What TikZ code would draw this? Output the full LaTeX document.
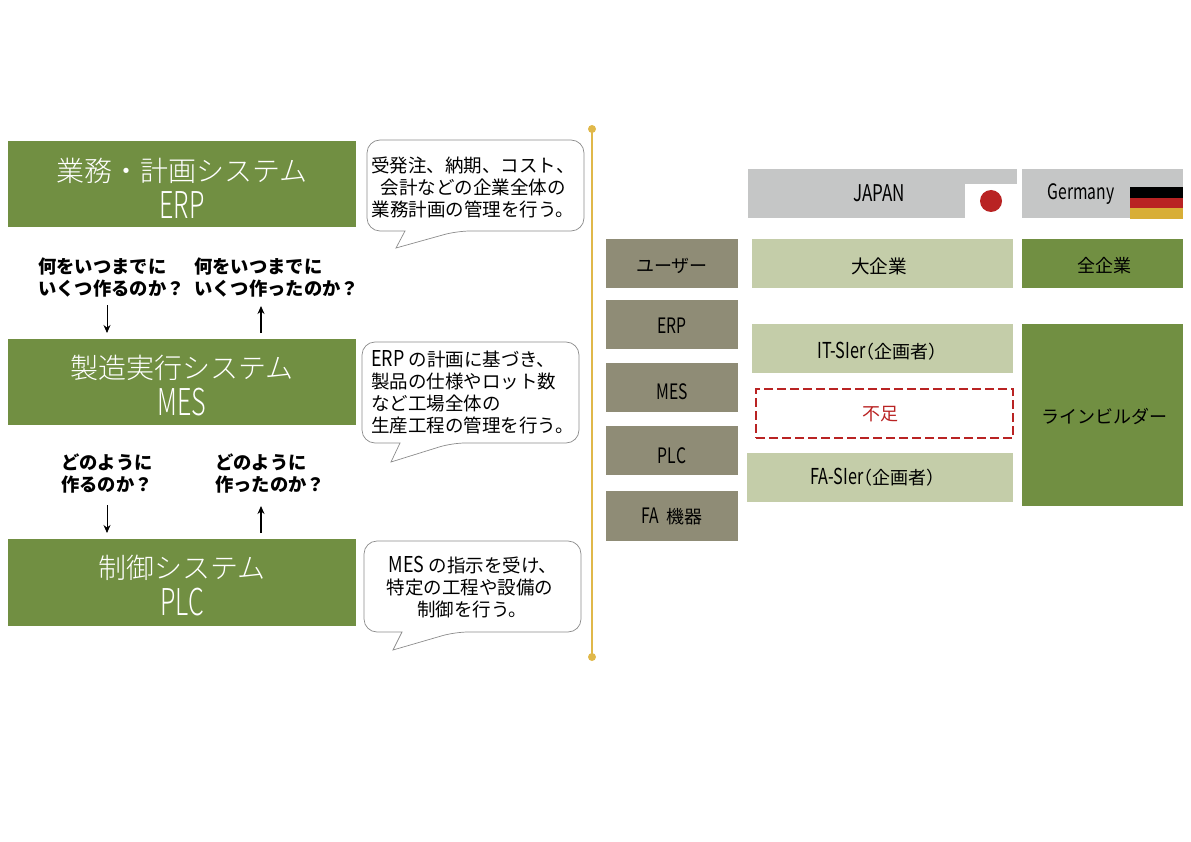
\documentclass[tikz,border=0pt]{standalone}
\usepackage{fontspec}
\setmainfont{Noto Sans CJK JP}
\newfontfamily\lightjp{Noto Sans CJK JP Light}
\newfontfamily\nar[FakeStretch=0.74,Scale=1.18]{Noto Sans CJK JP}
\newfontfamily\nab[FakeStretch=0.82,Scale=1.18]{Noto Sans CJK JP}
\newfontfamily\nart[FakeStretch=0.68,Scale=1.32]{Noto Sans CJK JP Light}
\newfontfamily\halfp[RawFeature=+halt]{Noto Sans CJK JP}
\newcommand{\la}[1]{{\nar #1}}
\newcommand{\lb}[1]{{\nab #1}}
\newcommand{\lat}[1]{{\nart #1}}
\newcommand{\sm}[1]{{\halfp\fontsize{18}{22}\selectfont #1}}
\definecolor{dkgreen}{HTML}{718F42}
\definecolor{ltgreen}{HTML}{C4CDA9}
\definecolor{taupe}{HTML}{8F8C76}
\definecolor{hdgrey}{HTML}{C5C6C6}
\definecolor{gold}{HTML}{E0B84A}
\definecolor{flagred}{HTML}{B92323}
\definecolor{flaggold}{HTML}{D8AE36}
\definecolor{calloutline}{HTML}{8C8C8C}
\tikzset{
  x=1pt,y=-1pt,
  flat/.style={inner sep=0pt,outer sep=0pt,align=center},
  titlebox/.style={flat,fill=dkgreen,text=white,font=\lightjp\fontsize{28}{34}\selectfont},
  rowbox/.style={flat,fill=taupe,font=\fontsize{18}{22}\selectfont},
  lightbox/.style={flat,fill=ltgreen,font=\fontsize{18.6}{22}\selectfont},
  darkbox/.style={flat,fill=dkgreen,font=\fontsize{18}{22}\selectfont},
  headbox/.style={flat,fill=hdgrey,font=\fontsize{18}{22}\selectfont},
  gapbox/.style={flat,draw=flagred,line width=1.8pt,dash pattern=on 9pt off 4pt,text=flagred,font=\fontsize{18}{22}\selectfont},
  calloutpath/.style={draw=calloutline,fill=white,line width=0.7pt,rounded corners=13pt},
  callouttext/.style={inner sep=0pt,font=\fontsize{18.5}{22}\selectfont},
  asktext/.style={inner sep=0pt,align=left,anchor=west,font=\fontsize{18.3}{22}\bfseries\selectfont},
  flow/.style={-{Stealth[length=8pt,width=7pt]},line width=0.8pt},
  flowup/.style={-{Stealth[length=8pt,width=7pt]},line width=1.5pt},
}
% box from corners, with its text in a separate node at (tx,ty)
\newcommand{\bx}[9]{\node[#2,minimum width={(#5-#3)*1pt},minimum height={(#6-#4)*1pt}] (#1) at ({(#3+#5)/2},{(#4+#6)/2}) {};
  \node[#2,fill=none,draw=none] (#1-t) at (#7,#8) {#9};}
\usetikzlibrary{arrows.meta}
\begin{document}
\begin{tikzpicture}
\useasboundingbox (0,0) rectangle (1191,842);
% title boxes
\bx{erp}{titlebox}{8}{141}{356}{227}{182}{188}{業務・計画システム\\[3pt]\lat{ERP}}
\bx{mes}{titlebox}{8}{339}{356}{425}{182}{386}{製造実行システム\\[3pt]\lat{MES}}
\bx{plc}{titlebox}{8}{539}{356}{626}{182}{586}{制御システム\\[3pt]\lat{PLC}}
% callouts
\path[calloutpath] (367,140) -- (584,140) -- (584,231) -- (457,231) {[sharp corners] -- (396,248) -- (405,231)} -- (367,231) -- cycle;
\node[callouttext,align=center] (c1) at (473,187) {受発注、納期、コスト、\\会計などの企業全体の\hspace*{10pt}\\業務計画の管理を行う。};
\path[calloutpath] (362,342) -- (579,342) -- (579,443) -- (452,443) {[sharp corners] -- (391,462) -- (400,443)} -- (362,443) -- cycle;
\node[callouttext,align=left,anchor=west] (c2) at (371,392.5) {\lb{ERP} の計画に基づき、\\製品の仕様やロット数\\など工場全体の\\生産工程の管理を行う。};
\path[calloutpath] (364,541) -- (581,541) -- (581,632) -- (455,632) {[sharp corners] -- (393,650) -- (402,632)} -- (364,632) -- cycle;
\node[callouttext,align=center] (c3) at (470,587) {\hspace*{6pt}\lb{MES} の指示を受け、\\特定の工程や設備の\\\hspace*{4pt}制御を行う。};
% questions
\node[asktext] (q1) at (38,278) {何をいつまでに\\いくつ作るのか？};
\node[asktext] (q2) at (194,278) {何をいつまでに\\いくつ作ったのか？};
\node[asktext] (q3) at (61,474) {どのように\\作るのか？};
\node[asktext] (q4) at (215,474) {どのように\\作ったのか？};
% arrows
\coordinate (a1s) at (107,305); \coordinate (a1e) at (107,333);
\coordinate (a2s) at (261,333); \coordinate (a2e) at (261,306);
\coordinate (a3s) at (107,505); \coordinate (a3e) at (107,533);
\coordinate (a4s) at (261,533); \coordinate (a4e) at (261,506);
\draw[flow] (a1s) -- (a1e);
\draw[flowup] (a2s) -- (a2e);
\draw[flow] (a3s) -- (a3e);
\draw[flowup] (a4s) -- (a4e);
% divider
\coordinate (d1) at (592,129); \coordinate (d2) at (592,657);
\draw[gold,line width=2pt] (d1) -- (d2);
\fill[gold] (d1) circle (4); \fill[gold] (d2) circle (4);
% headers
\bx{jp}{headbox}{748}{169}{1017}{218}{879}{193}{{\fontsize{19.5}{22}\selectfont\la{JAPAN}}}
\fill[white] (965,184) rectangle (1017,218);
\fill[flagred] (991,201) circle (11);
\bx{de}{headbox}{1022}{169}{1183}{218}{1081}{194}{\la{Germany}}
\fill[black] (1130,187) rectangle (1183,198);
\fill[flagred] (1130,198) rectangle (1183,208.5);
\fill[flaggold] (1130,208.5) rectangle (1183,219);
% rows
\bx{r1}{rowbox}{606}{239}{738}{288}{672}{266}{ユーザー}
\bx{r2}{rowbox}{606}{300}{738}{349}{672}{325.5}{\la{ERP}}
\bx{r3}{rowbox}{606}{363}{738}{412}{672}{391.5}{\la{MES}}
\bx{r4}{rowbox}{606}{426}{738}{475}{672}{455.5}{\la{PLC}}
\bx{r5}{rowbox}{606}{491}{738}{541}{672}{516}{\la{FA}\hspace{4pt} 機器}
% japan
\bx{j1}{lightbox}{752}{239}{1013}{288}{879}{266}{大企業}
\bx{j2}{lightbox}{752}{324}{1013}{373}{877.5}{351.5}{\la{IT-SIer}\sm{（企画者）}}
\bx{j3}{gapbox}{756}{389}{1013}{438}{880}{414.5}{不足}
\bx{j4}{lightbox}{747}{453}{1013}{502}{873}{477}{\la{FA-SIer}\sm{（企画者）}}
% germany
\bx{g1}{darkbox}{1022}{239}{1183}{288}{1104}{266}{全企業}
\bx{g2}{darkbox}{1022}{324}{1183}{506}{1104}{416}{ラインビルダー}
\end{tikzpicture}
\end{document}
